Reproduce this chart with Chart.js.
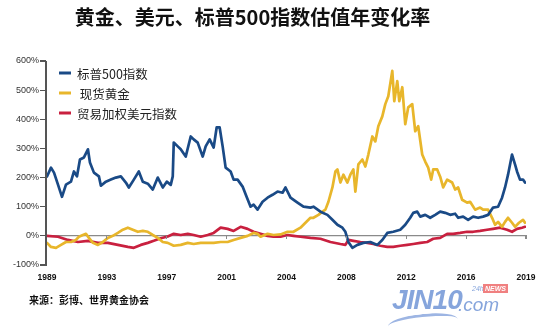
<!DOCTYPE html>
<html>
<head>
<meta charset="utf-8">
<script src="https://cdn.jsdelivr.net/npm/chart.js@4.4.1/dist/chart.umd.min.js"></script>
<style>
  body { margin: 0; background: #fff; }
  #wrap { position: relative; width: 550px; height: 334px; overflow: hidden; }
  #lineChart { display: block; }
  #title { position: absolute; left: 0; top: 5px; width: 505px; text-align: center;
    font: 700 20px "Noto Sans CJK SC", sans-serif; line-height: 24px; color: #111; }
  #source { position: absolute; left: 29px; top: 292px;
    font: 700 10px "Noto Sans CJK SC", sans-serif; line-height: 16px; color: #111; }
  #logo { position: absolute; left: 392px; top: 284px; width: 150px; height: 44px; }
  #logo .jin { position: absolute; left: 0; top: 0; font: italic 700 28px "Liberation Sans", sans-serif; color: #86a5dc; letter-spacing: -1px; }
  #logo .com { position: absolute; left: 66px; top: 10px; font: italic 400 19px "Liberation Sans", sans-serif; color: #86a5dc; }
  #logo .h24 { position: absolute; left: 80px; top: 1px; font: italic 400 7px "Liberation Sans", sans-serif; color: #86a5dc; }
  #logo .news { position: absolute; left: 91px; top: 0; font: italic 700 7px "Liberation Sans", sans-serif; color: #fff; background: #f08080; padding: 0 2px; line-height: 9px; }
  #logo .swoosh { position: absolute; left: -4px; top: 30px; width: 70px; height: 14px; border-top: 3px solid #9db5e3; border-radius: 50% 50% 0 0; transform: rotate(-6deg); }
  .axisbit { position: absolute; background: #555; }
</style>
</head>
<body>
<div id="wrap">
  <canvas id="lineChart" width="550" height="334"></canvas>
  <div id="title">黄金、美元、标普500指数估值年变化率</div>
  <div id="source">来源：彭博、世界黄金协会</div>
  <div id="logo"><span class="jin">JIN10</span><span class="h24">24h</span><span class="news">NEWS</span><span class="com">.com</span><span class="swoosh"></span></div>
</div>
<script>
// axis labels (evenly spaced on the original chart, 12 steps between labels)
var yearLabels = ["1989", "1993", "1997", "2001", "2004", "2008", "2012", "2016", "2019"];

// S&P 500 yearly change (%)
var sp500X = [0,0.8,1.4,2.2,3,3.8,4.8,5.4,6,6.6,7.4,8.2,8.6,9.4,10.4,10.8,11.8,12.8,13.8,14.8,15.8,16.4,17.4,18.4,19.2,20.2,21.2,22.2,23.2,24,24.8,25.2,25.4,26.2,26.8,27.8,28.8,29.4,30.2,31.2,31.8,32.6,33.4,34,34.6,35.2,35.8,36.8,37.4,38.2,39.2,40,40.8,41.4,42.2,43.2,44.2,45.2,46.2,47.2,47.8,48.8,50.2,51.4,52.8,53.4,54.8,56.2,57.2,58.2,59.2,59.8,60.4,61.2,62.2,63.4,64.8,66.2,67.2,68.2,69.4,70.8,71.8,72.8,73.4,74.2,74.8,75.8,76.8,77.8,78.8,79.8,80.8,81.8,82.4,83.4,84.4,85.4,86.4,87.4,88.4,89.4,90.4,91.2,91.8,92.4,93.2,93.8,94.2,94.8,95.4,95.8];
var sp500Y = [204,234,217,176,134,176,186,221,204,262,269,297,252,217,204,172,186,193,200,204,183,166,193,221,186,179,159,200,166,186,175,204,320,307,297,272,341,331,320,272,307,331,303,372,372,307,234,221,193,193,169,134,100,107,90,117,131,141,152,148,166,131,114,100,97,100,83,72,55,38,28,14,-21,-41,-31,-24,-21,-31,-14,10,14,21,38,62,79,83,66,72,62,72,83,79,72,76,62,66,55,66,62,66,72,97,100,131,166,210,279,245,221,193,193,183];

// spot gold yearly change (%)
var goldX = [0,0.8,1.8,2.8,3.8,4.8,5.8,6.4,7.2,7.8,8.4,9.2,10.2,11.2,12.2,13.2,14.2,15.2,16.2,17.2,18.2,19.2,20.2,21.2,22.2,23.2,24.2,25.4,26.8,28.2,29.4,30.8,32.2,33.4,34.8,36.2,37.4,38.8,40.2,41.4,42.2,42.8,44.2,45.4,46.8,48.2,49.4,50.8,51.8,52.8,53.4,54.4,55.2,55.8,56.4,57.2,57.8,58.2,58.8,59.4,60.2,60.8,61.4,61.8,62.4,63.2,63.8,64.4,65.2,65.8,66.4,67.2,67.8,68.4,69.2,69.6,70.2,70.6,71.2,71.8,72.4,73.2,73.8,74.4,75.2,75.8,76.4,77,77.4,78.2,78.8,79.4,80.2,81.2,81.8,82.4,83.2,84.2,84.8,85.8,86.8,87.4,88.4,89.2,89.8,90.4,91.2,91.8,92.4,93.2,93.8,94.6,95.4,95.8];
var goldY = [-24,-38,-41,-31,-21,-21,-14,-3,3,7,-7,-24,-31,-21,-7,0,10,21,28,21,14,17,14,3,-7,-21,-24,-34,-31,-24,-28,-24,-24,-24,-21,-21,-14,-7,0,10,7,-3,7,3,5,14,14,28,45,62,62,72,83,90,117,166,221,228,183,210,183,210,228,152,245,262,238,279,341,324,376,410,452,479,566,462,531,462,510,383,441,452,359,376,279,255,234,193,228,228,203,166,193,183,159,166,124,114,117,90,97,90,90,62,38,48,31,48,62,45,31,45,55,45];

// trade-weighted dollar yearly change (%)
var usdX = [0,2.2,4.2,6.2,8.2,10.2,12.2,14.2,16.2,17.4,18.8,20.2,21.4,22.8,24.2,25.4,26.8,28.2,29.4,30.8,32.2,33.4,34.8,36.2,37.4,38.8,40.2,41.4,42.8,44.2,45.4,46.8,48.2,49.4,50.8,52.8,54.8,56.8,58.8,59.8,60.4,61.4,62.8,64.2,65.4,66.8,68.2,69.4,70.8,72.2,73.4,74.8,76.2,77.4,78.8,80.2,81.4,82.8,84.2,85.4,86.8,88.2,89.4,90.8,92.2,93.2,94.2,95.2,95.8];
var usdY = [0,-3,-14,-21,-17,-24,-24,-31,-38,-41,-31,-24,-17,-8,-2,7,3,7,3,-3,3,10,28,24,17,31,24,14,7,0,-3,-3,3,0,-3,-7,-10,-21,-28,-31,-14,-17,-21,-24,-28,-34,-38,-38,-34,-31,-28,-24,-21,-10,-7,7,7,10,14,14,17,21,24,28,21,14,24,28,31];

function pairs(xs, ys) {
    return xs.map(function(x, i) { return {x: x, y: ys[i]}; });
}

var fontLatin = "'Liberation Sans', Arial, sans-serif";
var fontCjk = "'Noto Sans CJK SC', sans-serif";

// legend drawn inside the plot, top left, with short thick line markers
var insideLegend = {
    id: 'insideLegend',
    afterDraw: function(chart) {
        var c = chart.ctx;
        var area = chart.chartArea;
        c.save();
        c.font = "12.5px " + fontCjk;
        c.textBaseline = "middle";
        chart.data.datasets.forEach(function(ds, i) {
            var y = area.top + 12 + i * 20;
            c.strokeStyle = ds.borderColor;
            c.lineWidth = 3;
            c.lineCap = "butt";
            c.beginPath();
            c.moveTo(area.left + 12, y);
            c.lineTo(area.left + 24, y);
            c.stroke();
            c.fillStyle = "#222";
            c.fillText(ds.label, area.left + 30, y + 1);
        });
        c.restore();
    }
};

var ctx = document.getElementById("lineChart");
var lineChart = new Chart(ctx, {
    type: 'line',
    data: {
        datasets: [
            { label: "标普500指数", data: pairs(sp500X, sp500Y), borderColor: "#1a4a86", backgroundColor: "#1a4a86" },
            { label: " 现货黄金", data: pairs(goldX, goldY), borderColor: "#e8b62b", backgroundColor: "#e8b62b" },
            { label: "贸易加权美元指数", data: pairs(usdX, usdY), borderColor: "#c9203f", backgroundColor: "#c9203f" }
        ]
    },
    options: {
        responsive: false,
        animation: false,
        layout: { padding: { top: 61, left: 10, right: 24, bottom: 47 } },
        elements: {
            line: { borderWidth: 2.7, tension: 0, borderJoinStyle: 'round', borderCapStyle: 'round' },
            point: { radius: 0 }
        },
        scales: {
            x: {
                type: 'linear', min: 0, max: 96,
                afterFit: function(s) { s.height = 22; },
                grid: { display: false, drawTicks: false, tickLength: 0 },
                border: { display: false },
                ticks: {
                    stepSize: 12, autoSkip: false, maxRotation: 0, padding: 8,
                    color: "#111", font: { size: 8.5, weight: 'bold', family: fontLatin },
                    callback: function(v) { return yearLabels[v / 12]; }
                }
            },
            x2: {
                type: 'linear', min: 0, max: 96, position: { y: 0 },
                grid: { display: false },
                border: { color: "#8a8a8a", width: 1.2 },
                ticks: { stepSize: 12, display: false }
            },
            y: {
                type: 'linear', position: 'left', min: -100, max: 600,
                grid: { display: false, drawTicks: true, tickLength: 5 },
                border: { display: false },
                ticks: {
                    stepSize: 100, padding: 3, color: "#333",
                    font: { size: 9, family: fontLatin },
                    callback: function(v) { return v + "%"; }
                }
            }
        },
        plugins: {
            title: { display: false },
            tooltip: { enabled: false },
            legend: { display: false }
        }
    },
    plugins: [insideLegend]
});

// left axis line, its tick marks and the small ticks on the zero line,
// placed as thin page elements from the chart's own scales
(function() {
    var wrap = document.getElementById("wrap");
    var ys = lineChart.scales.y;
    var xs = lineChart.scales.x;
    var left = lineChart.chartArea.left;
    var top = ys.getPixelForValue(600);
    var bottom = ys.getPixelForValue(-100);
    var zero = ys.getPixelForValue(0);
    function bit(x, y, w, h, color) {
        var d = document.createElement("div");
        d.className = "axisbit";
        d.style.left = x + "px";
        d.style.top = y + "px";
        d.style.width = w + "px";
        d.style.height = h + "px";
        if (color) d.style.background = color;
        wrap.appendChild(d);
    }
    bit(left - 2, top - 0.5, 1.5, bottom - top + 1);
    ys.ticks.forEach(function(t) {
        bit(left - 7, ys.getPixelForValue(t.value) - 0.6, 5.5, 1.2);
    });
    xs.ticks.forEach(function(t) {
        if (t.value > 0) bit(xs.getPixelForValue(t.value) - 0.6, zero, 1.2, 3.5, "#8a8a8a");
    });
})();
</script>
</body>
</html>
